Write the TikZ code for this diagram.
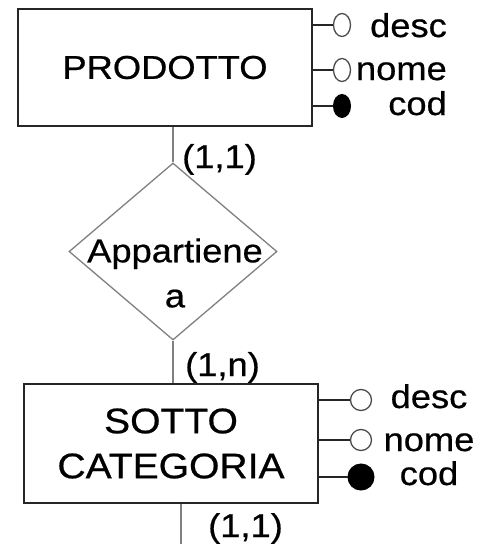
\documentclass[tikz,border=0pt]{standalone}
\usepackage{fontspec}
\setmainfont{Liberation Sans}[FakeStretch=1.1, FakeBold=0.6]
\usetikzlibrary{shapes.geometric}

\begin{document}
\begin{tikzpicture}[x=1pt, y=-1pt,
    every node/.style={font=\fontsize{33}{45}\selectfont},
    entity/.style={draw=black!85, line width=1.3pt, inner sep=0pt, align=center},
    relation/.style={diamond, draw=gray, line width=1.3pt, inner sep=0pt,
        minimum width=208pt, minimum height=177pt},
    link/.style={gray, line width=2pt},
    attrline/.style={black!85, line width=1.2pt},
    openattr/.style={draw=gray!60!black, fill=white, line width=1.3pt, inner sep=0pt},
    keyattr/.style={draw=black, fill=black, line width=1pt, inner sep=0pt}]
    \useasboundingbox (0,0) rectangle (481,544);
    % entities
    \node[entity, minimum width=294pt, minimum height=117pt] (prodotto) at (165,67.5) {PRODOTTO};
    \node[entity, minimum width=294pt, minimum height=119pt,
        font=\fontsize{35.5}{45}\selectfont] (sotto) at (171,443.5) {SOTTO\\CATEGORIA};
    % relationship
    \node[relation] (appartiene) at (173,251.5) {};
    \node[align=center, anchor=center] (appartiene-txt) at (175,273) {Appartiene\\a};
    % links and cardinalities
    \draw[link] (appartiene.north |- prodotto.south) -- (appartiene.north);
    \draw[link] (appartiene.south) -- (appartiene.south |- sotto.north);
    \coordinate (down) at (181,544);
    \draw[link] (sotto.south -| down) -- (down);
    \node[anchor=base west, inner sep=0pt] (card-p) at (182,168) {(1,1)};
    \node[anchor=base west, inner sep=0pt] (card-s) at (185,376) {(1,n)};
    \node[anchor=base west, inner sep=0pt] (card-d) at (208,537) {(1,1)};
    % attributes of PRODOTTO
    \foreach \n/\y/\b/\k in {desc/25/37/openattr, nome/70/80/openattr, cod/106/115/keyattr} {
        \node[\k, ellipse, minimum width=17pt, minimum height=23pt] (p-\n) at (342,\y) {};
        \draw[attrline] (prodotto.east |- p-\n) -- (p-\n);
        \node[anchor=base east, inner sep=0pt] (p-\n-lbl) at (447,\b) {\n};
    }
    % attributes of SOTTO CATEGORIA
    \foreach \n/\y/\b/\s/\k in {desc/400/408/21/openattr, nome/440/451/21/openattr, cod/477/485/26/keyattr} {
        \node[\k, circle, minimum size=\s pt] (s-\n) at (361,\y) {};
        \draw[attrline] (sotto.east |- s-\n) -- (s-\n);
        \node[anchor=base, inner sep=0pt] (s-\n-lbl) at (429,\b) {\n};
    }
\end{tikzpicture}
\end{document}
